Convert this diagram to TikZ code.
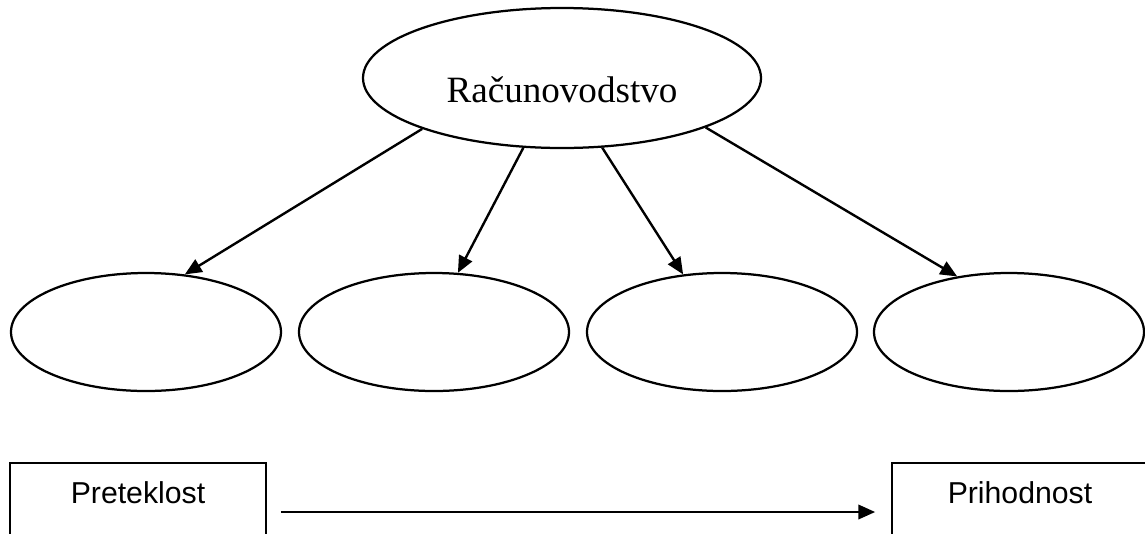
\documentclass[tikz,border=0pt]{standalone}
\usepackage{fontspec}
\setmainfont{Liberation Serif}
\newfontfamily\arialfont{Liberation Sans}
\usepackage{tikz}
\usetikzlibrary{shapes.geometric, arrows.meta}
\tikzstyle{glavni} = [ellipse, minimum width=9.95cm, minimum height=3.5cm, text height=1.2cm, text depth=0cm, draw=black, line width=1.6pt, font=\fontsize{26.4}{30}\selectfont]
\tikzstyle{podrocje} = [ellipse, minimum width=6.75cm, minimum height=2.95cm, draw=black, line width=1.6pt]
\tikzstyle{cas} = [rectangle, minimum width=6.4cm, inner ysep=0pt, text height=1cm, text depth=1.45cm, draw=black, line width=1.2pt, font=\arialfont\fontsize{21.5}{25}\selectfont]
\tikzstyle{arrow} = [line width=1.7pt, -{Triangle[length=0.42cm, width=0.36cm]}]

\begin{document}
\begin{tikzpicture}[node distance=6.35cm]
        \path[use as bounding box, clip] (0,0) rectangle (28.625,-13.325);

        \node (racunovodstvo) [glavni] at (14.05,-1.95) {Računovodstvo};

        \node (prvi) [podrocje, below of=racunovodstvo, xshift=-10.4cm] {};
        \node (drugi) [podrocje, below of=racunovodstvo, xshift=-3.2cm] {};
        \node (tretji) [podrocje, below of=racunovodstvo, xshift=4cm] {};
        \node (cetrti) [podrocje, below of=racunovodstvo, xshift=11.175cm] {};

        \node (preteklost) [cas] at (3.45,-12.8) {Preteklost};
        \node (prihodnost) [cas] at (25.5,-12.8) {Prihodnost};

        \draw [arrow] (racunovodstvo.200) -- (prvi.56);
        \draw [arrow] (racunovodstvo.241) -- (drugi.68);
        \draw [arrow] (racunovodstvo.300) -- (tretji.124);
        \draw [arrow] (racunovodstvo.341) -- (cetrti.133);

        \draw [arrow, shorten <=0.35cm, shorten >=0.4cm] (preteklost.east) -- (prihodnost.west);
    \end{tikzpicture}
\end{document}
